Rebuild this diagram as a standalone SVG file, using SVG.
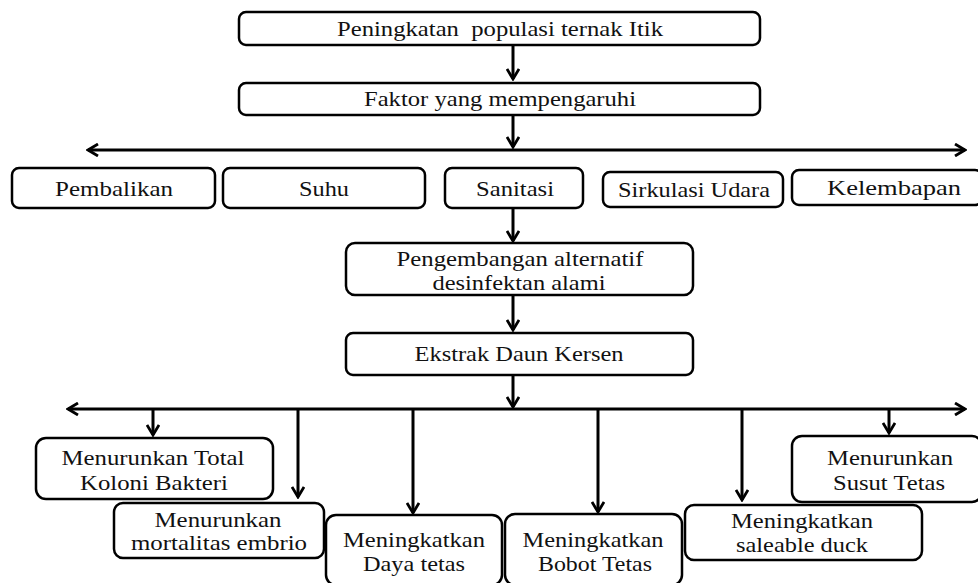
<svg xmlns="http://www.w3.org/2000/svg" width="978" height="583" viewBox="0 0 978 583">
<style>
.b{fill:#fff;stroke:#000;stroke-width:2.5}
.t{font-family:"Liberation Serif","Times New Roman",serif;font-size:21px;fill:#111;text-anchor:middle}
.c{fill:none;stroke:#000;stroke-width:3}
</style>
<defs>
<marker id="ah" viewBox="0 0 14 14" refX="12" refY="7" markerWidth="14" markerHeight="14" markerUnits="userSpaceOnUse" orient="auto-start-reverse">
<path d="M2,1 L12,7 L2,13" fill="none" stroke="#000" stroke-width="2.8" stroke-linejoin="miter"/>
</marker>
</defs>
<rect width="978" height="583" fill="#fff"/>
<g id="connectors">
<line class="c" x1="513" y1="45" x2="513" y2="79" marker-end="url(#ah)"/>
<line class="c" x1="513" y1="115" x2="513" y2="147" marker-end="url(#ah)"/>
<line class="c" x1="88" y1="150" x2="965" y2="150" marker-start="url(#ah)" marker-end="url(#ah)"/>
<line class="c" x1="513" y1="208" x2="513" y2="241" marker-end="url(#ah)"/>
<line class="c" x1="513" y1="295" x2="513" y2="330" marker-end="url(#ah)"/>
<line class="c" x1="513" y1="375" x2="513" y2="407" marker-end="url(#ah)"/>
<line class="c" x1="68" y1="409" x2="965" y2="409" marker-start="url(#ah)" marker-end="url(#ah)"/>
<line class="c" x1="153" y1="409" x2="153" y2="435" marker-end="url(#ah)"/>
<line class="c" x1="298" y1="409" x2="298" y2="497" marker-end="url(#ah)"/>
<line class="c" x1="413" y1="409" x2="413" y2="513" marker-end="url(#ah)"/>
<line class="c" x1="598" y1="409" x2="598" y2="512" marker-end="url(#ah)"/>
<line class="c" x1="742" y1="409" x2="742" y2="500" marker-end="url(#ah)"/>
<line class="c" x1="889" y1="409" x2="889" y2="433" marker-end="url(#ah)"/>
</g>
<g id="n1"><rect class="b" x="239" y="12" width="521" height="33" rx="7"/><text class="t" x="500" y="36" textLength="326" lengthAdjust="spacingAndGlyphs" xml:space="preserve">Peningkatan  populasi ternak Itik</text></g>
<g id="n2"><rect class="b" x="239" y="83" width="521" height="32" rx="7"/><text class="t" x="500" y="106" textLength="272" lengthAdjust="spacingAndGlyphs">Faktor yang mempengaruhi</text></g>
<g id="n3"><rect class="b" x="12" y="168" width="203" height="40" rx="7"/><text class="t" x="114" y="196" textLength="118" lengthAdjust="spacingAndGlyphs">Pembalikan</text></g>
<g id="n4"><rect class="b" x="223" y="168" width="202" height="40" rx="7"/><text class="t" x="324" y="196" textLength="50" lengthAdjust="spacingAndGlyphs">Suhu</text></g>
<g id="n5"><rect class="b" x="445" y="168" width="138" height="40" rx="7"/><text class="t" x="515" y="196" textLength="78" lengthAdjust="spacingAndGlyphs">Sanitasi</text></g>
<g id="n6"><rect class="b" x="603" y="172" width="180" height="35" rx="7"/><text class="t" x="694" y="197" textLength="152" lengthAdjust="spacingAndGlyphs">Sirkulasi Udara</text></g>
<g id="n7"><rect class="b" x="792" y="170" width="190" height="35" rx="7"/><text class="t" x="894" y="195" textLength="134" lengthAdjust="spacingAndGlyphs">Kelembapan</text></g>
<g id="n8"><rect class="b" x="346" y="243" width="347" height="52" rx="9"/><text class="t" x="520" y="266" textLength="247" lengthAdjust="spacingAndGlyphs">Pengembangan alternatif</text><text class="t" x="519" y="290" textLength="173" lengthAdjust="spacingAndGlyphs">desinfektan alami</text></g>
<g id="n9"><rect class="b" x="346" y="333" width="347" height="42" rx="7"/><text class="t" x="519" y="361" textLength="209" lengthAdjust="spacingAndGlyphs">Ekstrak Daun Kersen</text></g>
<g id="n10"><rect class="b" x="36" y="438" width="237" height="61" rx="10"/><text class="t" x="153" y="465" textLength="183" lengthAdjust="spacingAndGlyphs">Menurunkan Total</text><text class="t" x="154" y="490" textLength="148" lengthAdjust="spacingAndGlyphs">Koloni Bakteri</text></g>
<g id="n11"><rect class="b" x="114" y="503" width="210" height="55" rx="9"/><text class="t" x="218" y="527" textLength="127" lengthAdjust="spacingAndGlyphs">Menurunkan</text><text class="t" x="219" y="550" textLength="176" lengthAdjust="spacingAndGlyphs">mortalitas embrio</text></g>
<g id="n12"><rect class="b" x="326" y="515" width="176" height="70" rx="10"/><text class="t" x="414" y="547" textLength="142" lengthAdjust="spacingAndGlyphs">Meningkatkan</text><text class="t" x="414" y="571" textLength="102" lengthAdjust="spacingAndGlyphs">Daya tetas</text></g>
<g id="n13"><rect class="b" x="505" y="514" width="177" height="71" rx="10"/><text class="t" x="593" y="547" textLength="141" lengthAdjust="spacingAndGlyphs">Meningkatkan</text><text class="t" x="595" y="571" textLength="114" lengthAdjust="spacingAndGlyphs">Bobot Tetas</text></g>
<g id="n14"><rect class="b" x="685" y="505" width="237" height="55" rx="9"/><text class="t" x="802" y="528" textLength="142" lengthAdjust="spacingAndGlyphs">Meningkatkan</text><text class="t" x="802" y="552" textLength="132" lengthAdjust="spacingAndGlyphs">saleable duck</text></g>
<g id="n15"><rect class="b" x="792" y="436" width="190" height="66" rx="10"/><text class="t" x="890" y="465" textLength="126" lengthAdjust="spacingAndGlyphs">Menurunkan</text><text class="t" x="889" y="490" textLength="112" lengthAdjust="spacingAndGlyphs">Susut Tetas</text></g>
</svg>
